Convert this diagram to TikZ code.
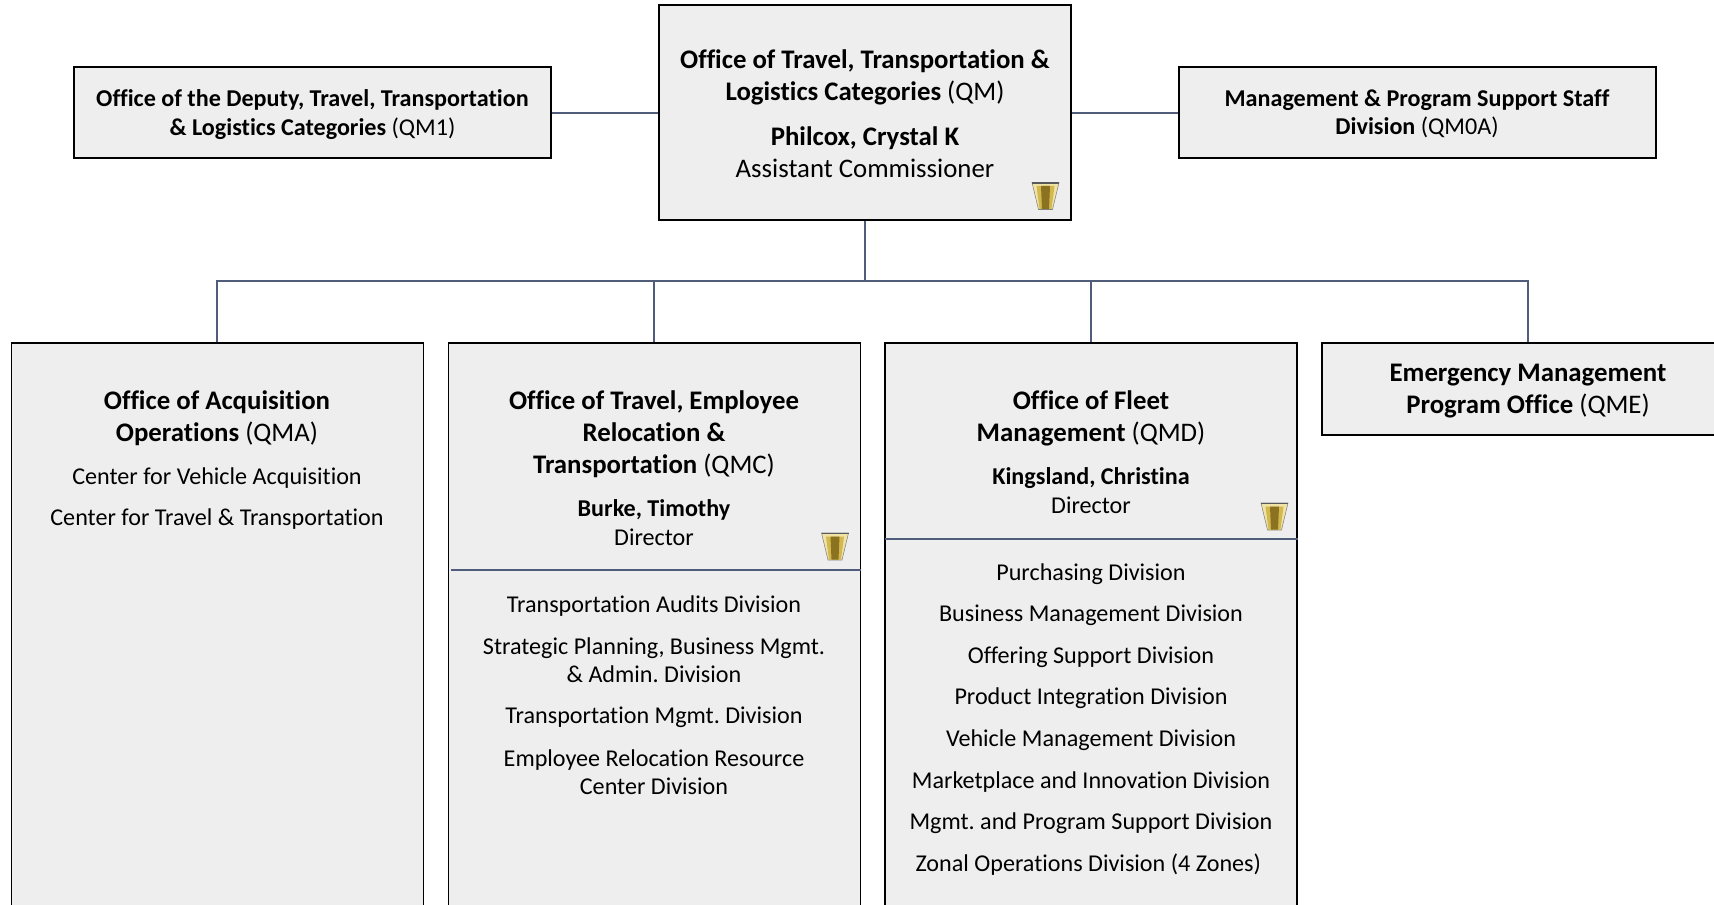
\documentclass[tikz,border=0pt]{standalone}
\usepackage{fontspec}
\setmainfont[Ligatures=NoCommon]{Carlito}

\definecolor{boxgrey}{HTML}{EEEEEE}
\definecolor{linkblue}{HTML}{4F5D7A}
\definecolor{goldlight}{HTML}{EFE3A6}
\definecolor{goldmid}{HTML}{D2B84E}
\definecolor{golddark}{HTML}{8A7220}

\newcommand{\bigfont}{\fontsize{20.1}{24}\selectfont\frenchspacing}
\newcommand{\midfont}{\fontsize{18.1}{21.3}\selectfont\frenchspacing}

\begin{document}
\begin{tikzpicture}[x=0.75pt,y=-0.75pt]
\tikzstyle{orgbox} = [draw=black, line width=1.4pt, fill=boxgrey, inner sep=0, anchor=north west]
\tikzstyle{link} = [draw=linkblue, line width=1.5pt]
\tikzstyle{bigtext} = [align=center, inner sep=0, font=\bigfont]
\tikzstyle{midtext} = [align=center, inner sep=0, font=\midfont]

% Bordo della pagina
\useasboundingbox (0,0) rectangle (1714,905);

% Scatole in alto
\node[orgbox, minimum width=309pt, minimum height=161pt] (qm) at (658,4.5) {};
\node[orgbox, minimum width=358pt, minimum height=68.5pt] (qm1) at (73,66) {};
\node[orgbox, minimum width=358pt, minimum height=68.5pt] (qm0a) at (1178,66) {};

% Scatole in basso (escono dalla pagina)
\node[orgbox, minimum width=309pt, minimum height=450pt] (qma) at (10.5,342.5) {};
\node[orgbox, minimum width=309pt, minimum height=450pt] (qmc) at (447.5,342.5) {};
\node[orgbox, minimum width=309pt, minimum height=450pt] (qmd) at (884,342.5) {};
\node[orgbox, minimum width=320pt, minimum height=68.5pt] (qme) at (1321,342.5) {};

% Collegamenti
\coordinate (bus) at (864.5,281);
\draw[link] (qm1.east) -- (qm.west |- qm1.east);
\draw[link] (qm0a.west) -- (qm.east |- qm0a.west);
\draw[link] (qm.south) -- (qm.south |- bus);
\coordinate (qma-top) at (217,342.5);
\coordinate (qmc-top) at (654,342.5);
\coordinate (qmd-top) at (1091,342.5);
\coordinate (qme-top) at (1528,342.5);
\draw[link] (qma-top) |- (bus);
\draw[link] (qmc-top) |- (bus);
\draw[link] (qmd-top) |- (bus);
\draw[link] (qme-top) |- (bus);

% Divisori
\coordinate (qmc-rule) at (451,570);
\coordinate (qmd-rule) at (885,538.5);
\draw[link] (qmc-rule) -- (qmc-rule -| qmc.east);
\draw[link] (qmd-rule) -- (qmd-rule -| qmd.east);

% Testi in alto
\node[bigtext] (qm-title) at (865,77) {\textbf{Office of Travel, Transportation \&}\\\textbf{Logistics Categories} (QM)};
\node[bigtext] (qm-name) at (865,152) {\textbf{Philcox, Crystal K}\\Assistant Commissioner};
\node[midtext] (qm1-title) at (312.5,114.5) {\textbf{Office of the Deputy, Travel, Transportation}\\\textbf{\& Logistics Categories} (QM1)};
\node[midtext] (qm0a-title) at (1417,114) {\textbf{Management \& Program Support Staff}\\\textbf{Division} (QM0A)};

% Testi in basso
\node[bigtext] (qma-title) at (217,418.5) {\textbf{Office of Acquisition}\\\textbf{Operations} (QMA)};
\node[bigtext] (qmc-title) at (654,434.5) {\textbf{Office of Travel, Employee}\\\textbf{Relocation \&}\\\textbf{Transportation} (QMC)};
\node[bigtext] (qmd-title) at (1091,418.5) {\textbf{Office of Fleet}\\\textbf{Management} (QMD)};
\node[bigtext] (qme-title) at (1528,391) {\textbf{Emergency Management}\\\textbf{Program Office} (QME)};
\node[midtext] (qmc-name) at (654,522.5) {\textbf{Burke, Timothy}\\Director};
\node[midtext] (qmd-name) at (1091,490.5) {\textbf{Kingsland, Christina}\\Director};

% Divisioni: centro/y/testo
\foreach \n/\x/\y/\txt in {
  a1/217/478.5/{Center for Vehicle Acquisition},
  a2/217/519.5/{Center for Travel \& Transportation},
  c1/654/606.5/{Transportation Audits Division},
  c2/654/660/{Strategic Planning, Business Mgmt.\\\& Admin. Division},
  c3/654/717.5/{Transportation Mgmt. Division},
  c4/654/772/{Employee Relocation Resource\\Center Division},
  d1/1091/574.5/{Purchasing Division},
  d2/1091/615.5/{Business Management Division},
  d3/1091/657.5/{Offering Support Division},
  d4/1091/698.5/{Product Integration Division},
  d5/1091/740.5/{Vehicle Management Division},
  d6/1091/782/{Marketplace and Innovation Division},
  d7/1091/823.5/{Mgmt. and Program Support Division},
  d8/1091/865/{Zonal Operations Division (4 Zones)}
} {
  \node[midtext] (div-\n) at (\x,\y) {\txt};
}

% Insegne
\foreach \n/\x/\y in {qm/1045.5/196, qmc/835/546.5, qmd/1274.5/516.5} {
  \begin{scope}[shift={(\x,\y)}]
    \fill[goldlight, draw=gray, line width=0.4pt] (-13.5,-13.5) -- (13.5,-13.5) -- (7,13.5) -- (-7,13.5) -- cycle;
    \fill[goldmid] (-9,-10) -- (9,-10) -- (6,13) -- (-6,13) -- cycle;
    \fill[golddark] (-4.5,-10) -- (4.5,-10) -- (3.5,13) -- (-3.5,13) -- cycle;
    \draw[gray!70!black, line width=1pt] (-13.5,-13) -- (13.5,-13);
  \end{scope}
}

\end{tikzpicture}
\end{document}
